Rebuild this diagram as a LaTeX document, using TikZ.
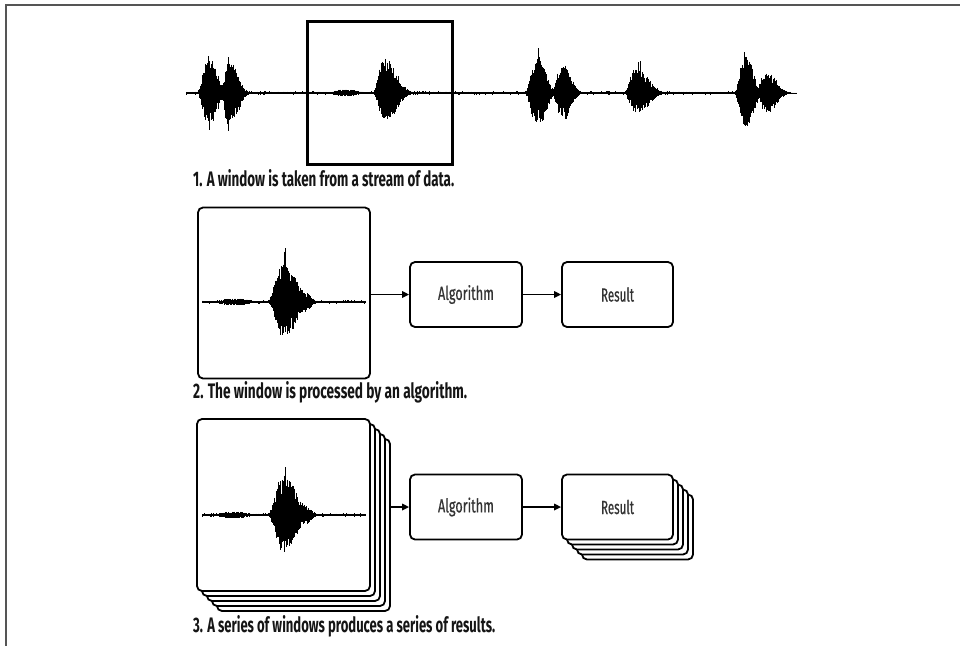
\documentclass[tikz,border=0pt]{standalone}
\usepackage{fontspec}
\setmainfont{Fira Sans}
\newfontfamily\lblfamily{Fira Sans}[FakeBold=0.7]
\usetikzlibrary{arrows.meta}
\definecolor{framegray}{HTML}{555555}
\definecolor{labelgray}{HTML}{333333}
\definecolor{capblack}{HTML}{151515}

% text squeezed to a given width, keeping its height
\newcommand\fitw[2]{\resizebox{#1}{\height}{#2}}
\newcommand\capfnt{\fontsize{21}{23}\selectfont\bfseries}
\newcommand\lblfnt{\lblfamily\fontsize{19}{21}\selectfont}

% thin tall spike of a burst: centre x, baseline y, height above,
% depth below, rise width, fall width
\newcommand\wlobe[6]{%
  \pgfmathtruncatemacro\wavN{(2.5*#5+3*#6)/0.5}%
  \foreach \i in {0,...,\wavN}{%
    \pgfmathsetmacro\wavX{-2.5*#5+0.5*\i}%
    \pgfmathsetmacro\wavE{\wavX<0 ? exp(-(\wavX/#5)*(\wavX/#5)) : exp(-(\wavX/#6)*(\wavX/#6))}%
    \pgfmathsetmacro\wavU{#3*\wavE*(0.3+0.7*rnd)}%
    \pgfmathsetmacro\wavD{#4*\wavE*(0.3+0.7*rnd)}%
    \draw[wave] (#1+\wavX,#2-\wavU) -- (#1+\wavX,#2+\wavD);
  }}
% dense body of a burst: sharp attack, softer decay (same arguments)
\newcommand\wbody[6]{%
  \pgfmathtruncatemacro\wavN{(1.5*#5+2.4*#6)/0.5}%
  \foreach \i in {0,...,\wavN}{%
    \pgfmathsetmacro\wavX{-1.5*#5+0.5*\i}%
    \pgfmathsetmacro\wavQ{\wavX<0 ? (\wavX/#5) : (\wavX/#6)}%
    \pgfmathsetmacro\wavE{\wavX<0 ? exp(-\wavQ*\wavQ*\wavQ*\wavQ) : exp(-\wavQ*\wavQ)}%
    \pgfmathsetmacro\wavU{#3*\wavE*(0.5+0.5*rnd)}%
    \pgfmathsetmacro\wavD{#4*\wavE*(0.5+0.5*rnd)}%
    \draw[wave] (#1+\wavX,#2-\wavU) -- (#1+\wavX,#2+\wavD);
  }}
% noisy flat signal: from x, to x, baseline y
\newcommand\wline[3]{%
  \draw[base] (#1,#3) -- (#2,#3);
  \pgfmathtruncatemacro\wavN{(#2-#1)/1.2}%
  \foreach \i in {0,...,\wavN}{%
    \pgfmathsetmacro\wavU{1.8*rnd}%
    \pgfmathsetmacro\wavD{1.8*rnd}%
    \draw[wave, line width=0.5pt] (#1+1.2*\i,#3-\wavU) -- (#1+1.2*\i,#3+\wavD);
  }}
% the single burst shown inside a window, on baseline y
\newcommand\windowwave[1]{%
  \wline{202}{366}{#1}
  \wbody{238}{#1}{3.5}{3.5}{20}{14}
  \wbody{287}{#1}{38}{33}{14}{14}
  \wlobe{285}{#1}{55}{43}{3}{4}
  \wlobe{281}{#1}{42}{38}{3}{3}
  \wbody{305}{#1}{10}{10}{4}{8}}

\begin{document}
\begin{tikzpicture}[x=1pt,y=-1pt,
  wave/.style={line width=0.9pt, black},
  base/.style={line width=2pt, black},
  frameline/.style={line width=2.2pt, draw=framegray},
  winframe/.style={draw, line width=3pt, inner sep=0pt},
  winbox/.style={draw, fill=white, line width=1.8pt, rounded corners=5pt,
    inner sep=0pt, minimum width=173pt, minimum height=172pt},
  procbox/.style={draw, fill=white, line width=1.8pt, rounded corners=5pt,
    inner sep=0pt, minimum width=112pt, minimum height=65pt,
    font=\lblfnt, text=labelgray},
  flow/.style={line width=1.6pt, -{Triangle[length=7pt,width=6.5pt]}},
  caption/.style={anchor=base west, inner sep=0pt, font=\capfnt, text=capblack}
]
\useasboundingbox (0,0) rectangle (960,646);
\pgfmathsetseed{11}

% page rules
\coordinate (ruleTL) at (5,5);
\coordinate (ruleTR) at (960,5);
\coordinate (ruleBL) at (6,646);
\draw[frameline] (ruleTR) -- (ruleTL);
\draw[frameline] (6,4) -- (ruleBL);

% ---- 1. stream of data ----
\wline{186}{787}{93}
\wbody{211}{93}{33}{31}{10}{9}
\wlobe{209}{93}{48}{37}{3}{3}
\wbody{231}{93}{30}{32}{8}{10}
\wlobe{228}{93}{40}{54}{2}{3}
\wbody{347}{93}{3.5}{3.5}{15}{14}
\wbody{387}{93}{33}{27}{10}{14}
\wlobe{387}{93}{46}{30}{3}{3}
\wbody{540}{93}{31}{31}{11}{9}
\wlobe{539}{93}{46}{42}{2.5}{3}
\wbody{564}{93}{26}{25}{9}{10}
\wlobe{566}{93}{31}{37}{2.5}{3}
\wbody{638}{93}{24}{20}{10}{15}
\wlobe{639}{93}{37}{24}{3}{3}
\wbody{747}{93}{35}{35}{9}{9}
\wlobe{746}{93}{56}{49}{3}{3}
\wbody{768}{93}{20}{20}{9}{12}
\wlobe{767}{93}{26}{20}{2.5}{3}

\node[winframe, minimum width=145pt, minimum height=143pt] (win1) at (379.5,92.5) {};
\node[caption] (cap1) at (193,186) {\fitw{261pt}{1. A window is taken from a stream of data.}};

% ---- 2. one window, one result ----
\node[winbox, minimum width=172pt, minimum height=171pt] (w2) at (284,293) {};
\windowwave{302}
\node[procbox] (alg2) at (466,294.5) {\fitw{56pt}{Algorithm}};
\node[procbox, minimum width=111pt] (res2) at (617.5,294.5) {\fitw{33pt}{Result}};
\draw[flow] (w2.east |- alg2.west) -- (alg2.west);
\draw[flow] (alg2.east) -- (res2.west);
\node[caption] (cap2) at (193,398) {\fitw{274pt}{2. The window is processed by an algorithm.}};

% ---- 3. many windows, many results ----
\node[winbox] (w3d) at (303.5,525) {};
\node[winbox] (w3c) at (298.5,520) {};
\node[winbox] (w3b) at (293.5,515) {};
\node[winbox] (w3a) at (288.5,510) {};
\node[winbox] (w3) at (283.5,505) {};
\windowwave{515}
\node[procbox] (alg3) at (466,507) {\fitw{56pt}{Algorithm}};
\node[procbox, minimum width=111pt] (res3d) at (637.5,527) {};
\node[procbox, minimum width=111pt] (res3c) at (632.5,522) {};
\node[procbox, minimum width=111pt] (res3b) at (627.5,517) {};
\node[procbox, minimum width=111pt] (res3a) at (622.5,512) {};
\node[procbox, minimum width=111pt] (res3) at (617.5,507) {\fitw{33pt}{Result}};
\draw[flow] (w3d.east |- alg3.west) -- (alg3.west);
\draw[flow] (alg3.east) -- (res3.west);
\node[caption] (cap3) at (193,632) {\fitw{302pt}{3. A series of windows produces a series of results.}};
\end{tikzpicture}
\end{document}
